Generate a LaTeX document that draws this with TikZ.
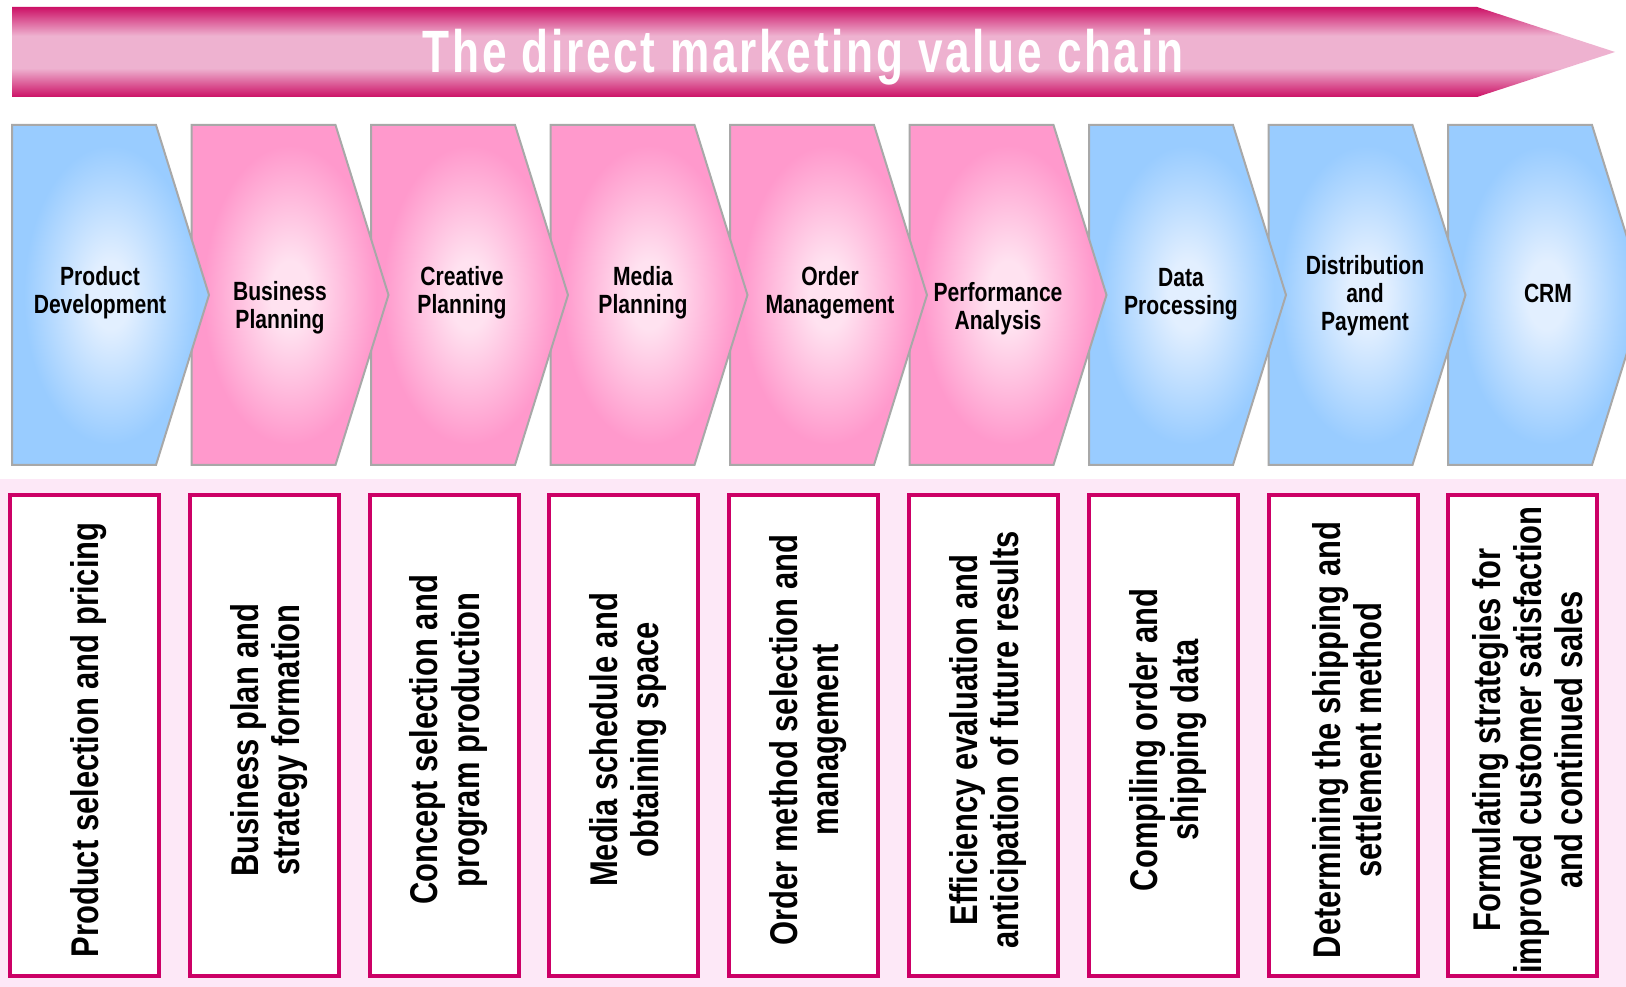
\documentclass[tikz,border=0pt]{standalone}
\usepackage{fontspec}
\setmainfont{Liberation Sans}
\newfontfamily\narrowfont{Liberation Sans}[FakeStretch=0.8]
\newfontfamily\bannerfont{Liberation Sans}[FakeStretch=0.74,LetterSpace=4.5]

\definecolor{chainmag}{HTML}{CC1166}
\definecolor{chainlight}{HTML}{EEB2D0}
\definecolor{bluein}{HTML}{E2EFFF}
\definecolor{blueout}{HTML}{99CCFF}
\definecolor{pinkin}{HTML}{FFE2F0}
\definecolor{pinkout}{HTML}{FF99CC}
\definecolor{boxmag}{HTML}{CC0066}
\definecolor{dotpink}{HTML}{FDE8F7}
\definecolor{chevgray}{HTML}{A8A8A8}

% band shading for the banner arrow, glow shadings for the chevrons
\pgfdeclareverticalshading{banner}{100bp}{color(0bp)=(chainmag); color(25bp)=(chainmag);
  color(41bp)=(chainlight); color(59bp)=(chainlight); color(75bp)=(chainmag); color(100bp)=(chainmag)}
\pgfdeclareradialshading{glowblu}{\pgfpoint{0bp}{0bp}}{color(0bp)=(bluein); color(5bp)=(bluein);
  color(22bp)=(blueout); color(50bp)=(blueout)}
\pgfdeclareradialshading{glowpink}{\pgfpoint{0bp}{0bp}}{color(0bp)=(pinkin); color(5bp)=(pinkin);
  color(22bp)=(pinkout); color(50bp)=(pinkout)}

\begin{document}
\begin{tikzpicture}[x = 0.1mm, y = -0.1mm, % one unit per pixel, y runs down
                line join = miter
            ]

            \tikzstyle{every node}=[inner sep = 0pt, align = center]
            \tikzstyle{chevron}=[draw = chevgray, line width = 0.2mm]
            \tikzstyle{chevlabel}=[font = \narrowfont\bfseries\fontsize{7.5}{8}\selectfont]
            \tikzstyle{taskbox}=[draw = boxmag, line width = 0.4mm, fill = white]
            \tikzstyle{tasktext}=[rotate = 90,
            font = \narrowfont\bfseries\fontsize{11}{11.7}\selectfont]

            \useasboundingbox (0,0) rectangle (1626,987);
            \clip (0,0) rectangle (1626,987);
            \fill[white] (0,0) rectangle (1626,987);

            % banner arrow
            \shade[shading = banner] (12,7) -- (1477,7) -- (1615,52) --
            (1477,97) -- (12,97) -- cycle;
            \node[text = white, anchor = base,
            font = \bannerfont\bfseries\fontsize{17}{20}\selectfont] (title)
            at (803,73) {The direct marketing value chain};

            % ground under the task boxes
            \fill[dotpink] (0,479) rectangle (1626,987);

            % chevrons, right to left so each tip lies over the next one
            \foreach \i/\glow/\lx/\ly/\txt in {
                9/glowblu/1548/293/CRM,
                8/glowblu/1365/296/{Distribution\\and\\Payment},
                7/glowblu/1181/294/{Data\\Processing},
                6/glowpink/998/309/{Performance\\Analysis},
                5/glowpink/830/293/{Order\\Management},
                4/glowpink/643/293/{Media\\Planning},
                3/glowpink/462/293/{Creative\\Planning},
                2/glowpink/280/308/{Business\\Planning},
                1/glowblu/100/293/{Product\\Development}}
            {
                \pgfmathsetmacro\cx{12 + 179.5*(\i - 1)}
                \shade[chevron, shading = \glow] (\cx,125) -- (\cx + 144,125)
                -- (\cx + 197,295) -- (\cx + 144,465) -- (\cx,465) -- cycle;
                \node[chevlabel] (c\i) at (\lx,\ly) {\txt};
            }

            % task boxes
            \foreach \i/\txt in {
                1/{Product selection and pricing},
                2/{Business plan and\\strategy formation},
                3/{Concept selection and\\program production},
                4/{Media schedule and\\obtaining space},
                5/{Order method selection and\\management},
                6/{Efficiency evaluation and\\anticipation of future results},
                7/{Compiling order and\\shipping data},
                8/{Determining the shipping and\\settlement method},
                9/{Formulating strategies for\\improved customer satisfaction\\and continued sales}}
            {
                \pgfmathsetmacro\bx{10 + 179.8*(\i - 1)}
                \draw[taskbox] (\bx,495) rectangle (\bx + 149,976);
                \node[tasktext] (t\i) at (\bx + 79,740) {\txt};
            }
        \end{tikzpicture}
\end{document}
